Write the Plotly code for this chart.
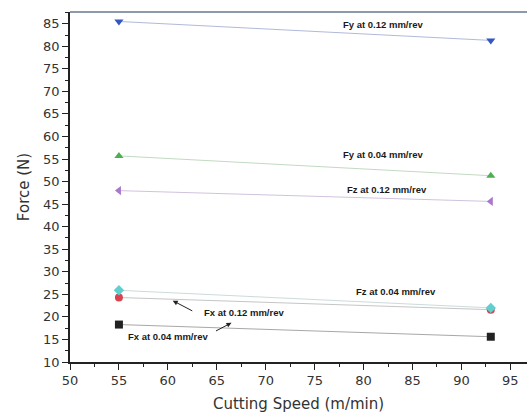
import plotly.graph_objects as go

# Cutting speeds (m/min)
speed = [55, 93]

# Force components (N) at two feed rates
fx_004 = [18.3, 15.6]
fx_012 = [24.3, 21.6]
fy_004 = [55.7, 51.3]
fy_012 = [85.5, 81.3]
fz_004 = [25.9, 22.0]
fz_012 = [48.0, 45.6]

series = [
    ("Fx at 0.04 mm/rev", fx_004, "square", "#222222", "rgba(60,60,60,0.45)"),
    ("Fx at 0.12 mm/rev", fx_012, "circle", "#d9434f", "rgba(90,90,90,0.35)"),
    ("Fy at 0.04 mm/rev", fy_004, "triangle-up", "#4cb050", "rgba(120,170,120,0.45)"),
    ("Fy at 0.12 mm/rev", fy_012, "triangle-down", "#3556c0", "rgba(80,100,170,0.45)"),
    ("Fz at 0.04 mm/rev", fz_004, "diamond", "#5fd0cf", "rgba(110,150,150,0.35)"),
    ("Fz at 0.12 mm/rev", fz_012, "triangle-left", "#a878cc", "rgba(150,120,180,0.45)"),
]

fig = go.Figure()
for name, vals, sym, col, lcol in series:
    fig.add_trace(go.Scatter(
        x=speed, y=vals, mode="lines+markers", name=name,
        line=dict(color=lcol, width=1),
        marker=dict(symbol=sym, color=col, size=8, line=dict(width=0)),
        showlegend=False,
    ))

lab_font = dict(family="Liberation Sans", size=9.5, color="#1a1a1a", weight="bold")

# Text labels beside each series
labels = [
    ("Fy at 0.12 mm/rev", 82.0, 84.9),
    ("Fy at 0.04 mm/rev", 82.0, 56.0),
    ("Fz at 0.12 mm/rev", 82.4, 48.2),
    ("Fz at 0.04 mm/rev", 83.3, 25.6),
    ("Fx at 0.12 mm/rev", 67.8, 20.9),
    ("Fx at 0.04 mm/rev", 60.0, 15.6),
]
annotations = [
    dict(text=t, x=x, y=y, xref="x", yref="y", showarrow=False, font=lab_font)
    for t, x, y in labels
]

# Pointer arrows for the Fx labels
annotations += [
    dict(text="", x=60.5, y=23.6, xref="x", yref="y", showarrow=True,
         ax=21, ay=11, arrowhead=2, arrowsize=1, arrowwidth=1, arrowcolor="#222222"),
    dict(text="", x=66.5, y=18.7, xref="x", yref="y", showarrow=True,
         ax=-17, ay=9, arrowhead=2, arrowsize=1, arrowwidth=1, arrowcolor="#222222"),
]

fig.update_layout(
    width=527, height=415,
    margin=dict(l=70, r=0, t=12, b=53),
    paper_bgcolor="white", plot_bgcolor="white",
    font=dict(family="DejaVu Sans", size=13, color="#333333"),
    annotations=annotations,
    shapes=[dict(type="line", xref="paper", yref="paper", x0=0, x1=1, y0=1, y1=1,
                 line=dict(color="#8d9aac", width=2))],
)
fig.update_xaxes(
    range=[50, 96.7], tickvals=[50, 55, 60, 65, 70, 75, 80, 85, 90, 95],
    ticks="outside", ticklen=6, tickwidth=1, tickcolor="#222222",
    minor=dict(dtick=2.5, ticks="outside", ticklen=3, tickcolor="#222222"),
    showline=True, linecolor="#222222", linewidth=1.5, showgrid=False, zeroline=False,
    title=dict(text="Cutting Speed (m/min)", font=dict(size=15), standoff=11),
)
fig.update_yaxes(
    range=[10, 87.6], tickvals=list(range(10, 90, 5)),
    ticks="outside", ticklen=6, tickwidth=1, tickcolor="#222222",
    minor=dict(dtick=2.5, ticks="outside", ticklen=3, tickcolor="#222222"),
    showline=True, linecolor="#222222", linewidth=1.5, showgrid=False, zeroline=False,
    title=dict(text="Force (N)", font=dict(size=15), standoff=10),
)

fig.write_html("out.html")
